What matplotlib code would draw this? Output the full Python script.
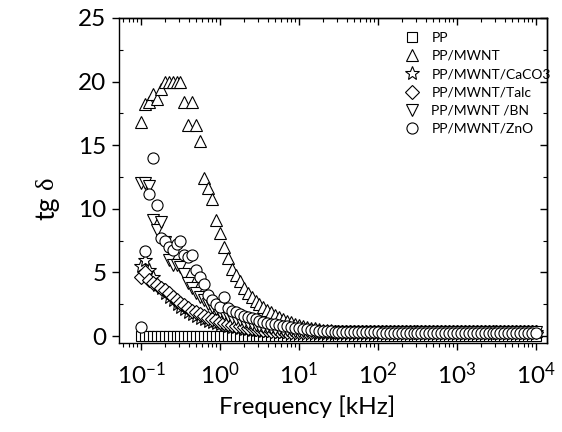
import math
import matplotlib
matplotlib.use("Agg")
import matplotlib.pyplot as plt
from matplotlib.ticker import FuncFormatter, MultipleLocator, LogLocator, NullFormatter

plt.rcParams['font.family'] = ['Lato', 'DejaVu Sans']
plt.rcParams['mathtext.fontset'] = 'stix'

freq = [
    0.1, 0.112, 0.126, 0.141, 0.158, 0.178, 0.2, 0.224, 0.251, 0.282,
    0.316, 0.355, 0.398, 0.447, 0.501, 0.562, 0.631, 0.708, 0.794, 0.891,
    1.0, 1.12, 1.26, 1.41, 1.58, 1.78, 2.0, 2.24, 2.51, 2.82,
    3.16, 3.55, 3.98, 4.47, 5.01, 5.62, 6.31, 7.08, 7.94, 8.91,
    10.0, 11.2, 12.6, 14.1, 15.8, 17.8, 20.0, 22.4, 25.1, 28.2,
    31.6, 35.5, 39.8, 44.7, 50.1, 56.2, 63.1, 70.8, 79.4, 89.1,
    100.0, 112.0, 126.0, 141.0, 158.0, 178.0, 200.0, 224.0, 251.0, 282.0,
    316.0, 355.0, 398.0, 447.0, 501.0, 562.0, 631.0, 708.0, 794.0, 891.0,
    1000.0, 1120.0, 1260.0, 1410.0, 1580.0, 1780.0, 2000.0, 2240.0, 2510.0, 2820.0,
    3160.0, 3550.0, 3980.0, 4470.0, 5010.0, 5620.0, 6310.0, 7080.0, 7940.0, 8910.0,
    10000.0,
]

pp = [
    0.02, 0.02, 0.02, 0.02, 0.02, 0.02, 0.02, 0.02, 0.02, 0.02,
    0.02, 0.02, 0.02, 0.02, 0.02, 0.02, 0.02, 0.02, 0.02, 0.02,
    0.02, 0.02, 0.02, 0.02, 0.02, 0.02, 0.02, 0.02, 0.02, 0.02,
    0.02, 0.02, 0.02, 0.02, 0.02, 0.02, 0.02, 0.02, 0.02, 0.02,
    0.02, 0.02, 0.02, 0.02, 0.02, 0.02, 0.02, 0.02, 0.02, 0.02,
    0.02, 0.02, 0.02, 0.02, 0.02, 0.02, 0.02, 0.02, 0.02, 0.02,
    0.02, 0.02, 0.02, 0.02, 0.02, 0.02, 0.02, 0.02, 0.02, 0.02,
    0.02, 0.02, 0.02, 0.02, 0.02, 0.02, 0.02, 0.02, 0.02, 0.02,
    0.02, 0.02, 0.02, 0.02, 0.02, 0.02, 0.02, 0.02, 0.02, 0.02,
    0.02, 0.02, 0.02, 0.02, 0.02, 0.02, 0.02, 0.02, 0.02, 0.02,
    0.02,
]

mwnt = [
    16.8, 18.2, 18.4, 19.0, 18.6, 19.4, 20.0, 20.0, 20.0, 20.0,
    20.0, 18.4, 16.6, 18.4, 16.6, 15.3, 12.4, 11.6, 10.8, 9.1,
    8.1, 7.0, 6.1, 5.3, 4.8, 4.3, 3.8, 3.4, 3.05, 2.75,
    2.5, 2.25, 2.05, 1.85, 1.65, 1.5, 1.35, 1.2, 1.08, 0.97,
    0.88, 0.80, 0.72, 0.66, 0.60, 0.55, 0.51, 0.48, 0.45, 0.43,
    0.42, 0.41, 0.40, 0.40, 0.39, 0.39, 0.38, 0.38, 0.38, 0.37,
    0.37, 0.37, 0.37, 0.36, 0.36, 0.36, 0.36, 0.36, 0.36, 0.36,
    0.36, 0.36, 0.36, 0.36, 0.36, 0.36, 0.36, 0.36, 0.36, 0.37,
    0.37, 0.37, 0.37, 0.37, 0.37, 0.37, 0.38, 0.38, 0.38, 0.38,
    0.38, 0.38, 0.38, 0.39, 0.39, 0.39, 0.39, 0.39, 0.40, 0.40,
    0.40,
]

caco3 = [
    5.5, 6.0, 5.2, 4.6, 4.0, 3.8, 3.4, 3.1, 2.8, 2.5,
    2.3, 2.1, 1.9, 1.75, 1.6, 1.45, 1.32, 1.2, 1.1, 1.0,
    0.92, 0.85, 0.78, 0.72, 0.67, 0.62, 0.58, 0.54, 0.50, 0.47,
    0.44, 0.42, 0.40, 0.38, 0.36, 0.35, 0.34, 0.33, 0.32, 0.31,
    0.30, 0.30, 0.30, 0.29, 0.29, 0.29, 0.29, 0.28, 0.28, 0.28,
    0.28, 0.28, 0.28, 0.28, 0.28, 0.28, 0.28, 0.28, 0.28, 0.28,
    0.28, 0.28, 0.28, 0.28, 0.28, 0.28, 0.28, 0.28, 0.28, 0.28,
    0.28, 0.28, 0.28, 0.28, 0.28, 0.28, 0.28, 0.28, 0.28, 0.28,
    0.28, 0.28, 0.28, 0.28, 0.28, 0.28, 0.28, 0.28, 0.28, 0.28,
    0.28, 0.28, 0.28, 0.28, 0.28, 0.28, 0.28, 0.28, 0.28, 0.28,
    0.28,
]

talc = [
    4.6, 5.0, 4.4, 4.2, 4.0, 3.8, 3.6, 3.4, 3.1, 2.8,
    2.6, 2.4, 2.2, 2.0, 1.85, 1.7, 1.56, 1.44, 1.32, 1.22,
    1.12, 1.03, 0.95, 0.88, 0.81, 0.75, 0.70, 0.65, 0.60, 0.56,
    0.52, 0.49, 0.46, 0.43, 0.41, 0.39, 0.37, 0.35, 0.34, 0.33,
    0.32, 0.31, 0.31, 0.30, 0.30, 0.30, 0.29, 0.29, 0.29, 0.29,
    0.29, 0.29, 0.29, 0.29, 0.29, 0.29, 0.29, 0.29, 0.29, 0.29,
    0.29, 0.29, 0.29, 0.29, 0.29, 0.29, 0.29, 0.29, 0.29, 0.29,
    0.29, 0.29, 0.29, 0.29, 0.29, 0.29, 0.29, 0.29, 0.29, 0.29,
    0.29, 0.29, 0.29, 0.29, 0.29, 0.29, 0.29, 0.29, 0.29, 0.29,
    0.29, 0.29, 0.29, 0.29, 0.29, 0.29, 0.29, 0.29, 0.29, 0.29,
    0.29,
]

bn = [
    12.0, 12.0, 11.8, 9.1, 8.3, 9.0, 7.4, 6.0, 5.6, 5.6,
    5.4, 4.9, 4.2, 3.8, 3.4, 3.1, 2.8, 2.55, 2.3, 2.1,
    1.9, 1.75, 1.6, 1.45, 1.33, 1.22, 1.12, 1.03, 0.95, 0.87,
    0.80, 0.74, 0.68, 0.63, 0.58, 0.54, 0.50, 0.47, 0.44, 0.42,
    0.40, 0.38, 0.37, 0.36, 0.35, 0.34, 0.34, 0.33, 0.33, 0.33,
    0.32, 0.32, 0.32, 0.32, 0.32, 0.32, 0.32, 0.32, 0.32, 0.32,
    0.32, 0.32, 0.32, 0.32, 0.32, 0.32, 0.32, 0.32, 0.32, 0.32,
    0.32, 0.32, 0.32, 0.32, 0.32, 0.32, 0.32, 0.32, 0.32, 0.32,
    0.32, 0.32, 0.32, 0.32, 0.32, 0.32, 0.32, 0.32, 0.32, 0.32,
    0.32, 0.32, 0.32, 0.32, 0.32, 0.32, 0.32, 0.32, 0.32, 0.32,
    0.32,
]

zno = [
    0.7, 6.7, 11.2, 14.0, 10.3, 7.7, 7.5, 7.0, 6.8, 7.2,
    7.5, 6.4, 6.2, 6.4, 5.2, 4.6, 4.1, 3.2, 2.8, 2.5,
    2.3, 3.1, 2.2, 2.0, 1.85, 1.7, 1.6, 1.5, 1.4, 1.3,
    1.2, 1.12, 1.05, 0.98, 0.92, 0.86, 0.80, 0.75, 0.70, 0.65,
    0.60, 0.56, 0.52, 0.48, 0.45, 0.42, 0.40, 0.38, 0.36, 0.35,
    0.34, 0.33, 0.32, 0.31, 0.30, 0.30, 0.29, 0.29, 0.28, 0.28,
    0.28, 0.27, 0.27, 0.27, 0.26, 0.26, 0.26, 0.26, 0.25, 0.25,
    0.25, 0.25, 0.25, 0.24, 0.24, 0.24, 0.24, 0.24, 0.24, 0.23,
    0.23, 0.23, 0.23, 0.23, 0.23, 0.23, 0.23, 0.22, 0.22, 0.22,
    0.22, 0.22, 0.22, 0.22, 0.22, 0.22, 0.22, 0.22, 0.22, 0.22,
    0.22,
]

labels = ['PP', 'PP/MWNT', 'PP/MWNT/CaCO3', 'PP/MWNT/Talc', 'PP/MWNT /BN', 'PP/MWNT/ZnO']
series = [pp, mwnt, caco3, talc, bn, zno]
markers = ['s', '^', '*', 'D', 'v', 'o']
msizes = [7, 9, 10, 7, 9, 8]

fig = plt.figure(figsize=(5.62, 4.32), dpi=100)
ax = fig.add_axes([0.2117, 0.206, 0.7616, 0.7524])

for ys, lab, mk, ms in zip(series, labels, markers, msizes):
    ax.plot(freq, ys, linestyle='none', marker=mk, markersize=ms,
            markerfacecolor='white', markeredgecolor='black',
            markeredgewidth=0.8, label=lab)

ax.set_xscale('log')
ax.set_xlim(10 ** -1.278, 10 ** 4.139)
ax.set_ylim(-0.55, 25)

ax.yaxis.set_major_locator(MultipleLocator(5))
ax.yaxis.set_minor_locator(MultipleLocator(2.5))
ax.xaxis.set_major_locator(LogLocator(base=10, numticks=20))
ax.xaxis.set_minor_locator(LogLocator(base=10, subs=[2, 3, 4, 5, 6, 7, 8, 9], numticks=20))
ax.xaxis.set_minor_formatter(NullFormatter())
ax.xaxis.set_major_formatter(FuncFormatter(
    lambda v, p: r'$\mathregular{10^{%d}}$' % round(math.log10(v))))

ax.tick_params(axis='both', which='major', direction='out', length=5, width=1,
               labelsize=17.5, colors='black')
ax.tick_params(axis='x', which='minor', direction='out', length=3, width=0.8)
ax.tick_params(axis='y', which='minor', direction='in', length=3, width=0.8)
ax.tick_params(axis='x', which='major', pad=8)
ax.tick_params(axis='y', which='major', pad=4)

secx = ax.secondary_xaxis('top')
secx.xaxis.set_major_locator(LogLocator(base=10, numticks=20))
secx.xaxis.set_minor_locator(LogLocator(base=10, subs=[2, 3, 4, 5, 6, 7, 8, 9], numticks=20))
secx.xaxis.set_major_formatter(NullFormatter())
secx.xaxis.set_minor_formatter(NullFormatter())
secx.tick_params(which='major', direction='in', length=5, width=1)
secx.tick_params(which='minor', direction='in', length=3, width=0.8)

secy = ax.secondary_yaxis('right')
secy.yaxis.set_major_locator(MultipleLocator(5))
secy.yaxis.set_minor_locator(MultipleLocator(2.5))
secy.yaxis.set_major_formatter(NullFormatter())
secy.tick_params(which='major', direction='in', length=5, width=1)
secy.tick_params(which='minor', direction='in', length=3, width=0.8)

for s in list(ax.spines.values()) + list(secx.spines.values()) + list(secy.spines.values()):
    s.set_linewidth(1)

ax.set_xlabel('Frequency [kHz]', fontsize=17.5)
ax.xaxis.set_label_coords(0.44, -0.16)

# y label: "tg" in sans, delta in serif
fig.text(47 / 562, 1 - 208 / 432, 'tg', rotation=90, ha='center', va='center',
         fontsize=19)
fig.text(47 / 562, 1 - 183 / 432, 'δ', rotation=90, ha='center', va='center',
         fontsize=19, family=['Liberation Serif', 'DejaVu Serif'])

leg = ax.legend(loc='upper left', bbox_to_anchor=(0.655, 0.975), frameon=False,
                fontsize=10, handlelength=1.0, handletextpad=0.9,
                labelspacing=0.45, borderaxespad=0)

fig.savefig('out.png', dpi=100)
